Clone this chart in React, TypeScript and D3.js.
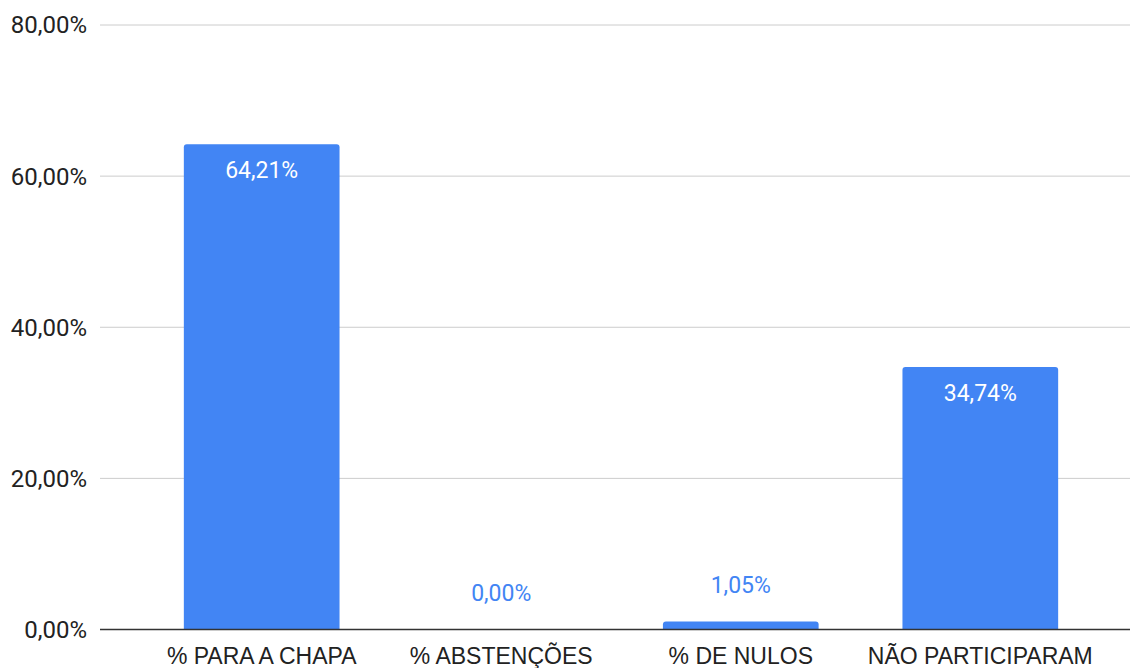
import { useEffect, useRef } from 'react';
import * as d3 from 'd3';

const categories = ['% PARA A CHAPA', '% ABSTENÇÕES', '% DE NULOS', 'NÃO PARTICIPARAM'];
const values = [64.21, 0, 1.05, 34.74];
const yTicks = [0, 20, 40, 60, 80];

const W = 1130;
const H = 668;
const BLUE = '#4285f4';

const fmt = (v: number) => v.toFixed(2).replace('.', ',') + '%';

export default function App() {
  const svgRef = useRef<SVGSVGElement>(null);

  useEffect(() => {
    if (!svgRef.current) return;
    const svg = d3.select(svgRef.current);
    svg.selectAll('*').remove();

    const left = 100;
    const right = 1130;
    const y = d3.scaleLinear().domain([0, 80]).range([629.5, 25]);
    const x = d3.scaleBand()
      .domain(categories)
      .range([left, 1142])
      .paddingInner(0.35)
      .paddingOuter(0.35);

    const font = 'Roboto, "Noto Sans", sans-serif';
    const catFont = '"Liberation Sans", Arial, sans-serif';

    // gridlines + y labels
    const grid = svg.append('g');
    yTicks.forEach(t => {
      if (t !== 0) {
        grid.append('line')
          .attr('x1', left).attr('x2', right)
          .attr('y1', y(t)).attr('y2', y(t))
          .attr('stroke', '#cccccc').attr('stroke-width', 1);
      }
      grid.append('text')
        .attr('x', 87).attr('y', y(t))
        .attr('dy', '0.35em')
        .attr('text-anchor', 'end')
        .style('font-family', font)
        .style('font-size', '24px')
        .style('fill', '#222')
        .text(fmt(t));
    });

    // bars with rounded top corners
    const r = 3;
    const bw = x.bandwidth();
    svg.append('g').selectAll('path')
      .data(values)
      .enter().append('path')
      .attr('d', (d, i) => {
        const x0 = x(categories[i]) || 0;
        const y0 = y(d);
        const y1 = y(0);
        const h = y1 - y0;
        if (h <= 0) return '';
        const rr = Math.min(r, h);
        return `M${x0},${y1}V${y0 + rr}Q${x0},${y0} ${x0 + rr},${y0}H${x0 + bw - rr}Q${x0 + bw},${y0} ${x0 + bw},${y0 + rr}V${y1}Z`;
      })
      .attr('fill', BLUE);

    // baseline
    svg.append('line')
      .attr('x1', left).attr('x2', right)
      .attr('y1', y(0)).attr('y2', y(0))
      .attr('stroke', '#333').attr('stroke-width', 1.5);

    // value labels
    svg.append('g').selectAll('text')
      .data(values)
      .enter().append('text')
      .attr('x', (d, i) => (x(categories[i]) || 0) + bw / 2)
      .attr('y', d => {
        const inside = y(0) - y(d) > 50;
        return inside ? y(d) + 26 : y(d) - 36.5;
      })
      .attr('dy', '0.35em')
      .attr('text-anchor', 'middle')
      .style('font-family', font)
      .style('font-size', '23px')
      .style('fill', d => (y(0) - y(d) > 50 ? '#ffffff' : BLUE))
      .text(d => fmt(d));

    // category labels
    svg.append('g').selectAll('text')
      .data(categories)
      .enter().append('text')
      .attr('x', d => (x(d) || 0) + bw / 2)
      .attr('y', 656)
      .attr('dy', '0.35em')
      .attr('text-anchor', 'middle')
      .style('font-family', catFont)
      .style('font-size', '23px')
      .style('fill', '#222')
      .text(d => d);
  }, []);

  return (
    <div style={{ position: 'fixed', left: 0, top: 0, width: W, height: H, background: '#fff' }}>
      <svg ref={svgRef} width={W} height={H} style={{ display: 'block' }} />
    </div>
  );
}
